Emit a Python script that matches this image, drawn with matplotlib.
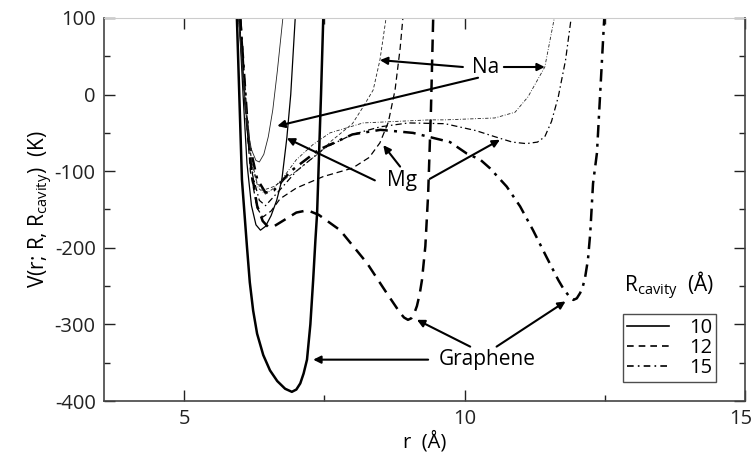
import matplotlib
matplotlib.use("Agg")
import matplotlib.pyplot as plt
from matplotlib.lines import Line2D
import matplotlib.transforms as mtransforms

plt.rcParams['font.family'] = ['Open Sans', 'DejaVu Sans']
plt.rcParams['mathtext.fontset'] = 'custom'
plt.rcParams['mathtext.rm'] = 'Open Sans'
plt.rcParams['mathtext.it'] = 'Open Sans'
plt.rcParams['axes.unicode_minus'] = False

# ---- data ----
gr10_x = [5.94, 6.03, 6.12, 6.17, 6.23, 6.30, 6.41, 6.53, 6.66, 6.80, 6.92, 7.00, 7.07, 7.13, 7.19,
          7.25, 7.30, 7.34, 7.37, 7.39, 7.44, 7.48]
gr10_y = [100, -111, -199, -245, -282, -312, -340, -360, -374, -384, -388, -385, -377, -364, -346,
          -300, -242, -190, -155, -111, 0, 100]

gr12_x = [6.00, 6.10, 6.20, 6.30, 6.40, 6.50, 6.60, 6.80, 7.00, 7.20, 7.40, 7.78, 8.26, 8.61, 8.85,
          8.92, 8.99, 9.05, 9.10, 9.15, 9.20, 9.24, 9.30, 9.35, 9.40, 9.44]
gr12_y = [100, -20, -100, -145, -165, -173, -172, -163, -154, -151, -157, -177, -220, -259, -285,
          -291, -294, -292, -286, -276, -260, -242, -198, -130, -20, 100]

gr15_x = [6.00, 6.15, 6.30, 6.45, 6.60, 6.90, 7.40, 8.00, 8.50, 9.08, 9.74, 10.04, 10.28, 10.45, 10.75,
          10.99, 11.22, 11.46, 11.67, 11.75, 11.82, 11.88, 11.94, 12.00, 12.06, 12.11, 12.15, 12.20,
          12.24, 12.29, 12.36, 12.49]
gr15_y = [100, -60, -110, -128, -125, -100, -72, -52, -46, -50, -62, -77, -85, -96, -120,
          -146, -177, -212, -242, -252, -259, -265, -268, -266, -259, -250, -238, -215,
          -181, -116, -76, 100]

mg10_x = [5.98, 6.05, 6.12, 6.20, 6.28, 6.36, 6.45, 6.55, 6.65, 6.74, 6.83, 6.90, 6.98]
mg10_y = [100, 0, -90, -145, -170, -177, -172, -158, -138, -112, -57, 0, 100]

mg12_x = [5.98, 6.08, 6.18, 6.30, 6.40, 6.55, 6.71, 7.00, 7.48, 8.00, 8.30, 8.49, 8.64, 8.76, 8.85, 8.90]
mg12_y = [100, 0, -100, -148, -160, -152, -136, -122, -107, -96, -82, -63, -36, 6, 60, 100]

mg15_x = [5.98, 6.10, 6.22, 6.34, 6.45, 6.70, 7.00, 7.50, 8.00, 8.50, 9.00, 9.65, 10.20, 10.54,
          10.85, 11.10, 11.30, 11.43, 11.55, 11.67, 11.80, 11.90]
mg15_y = [100, -20, -105, -138, -145, -125, -100, -70, -52, -42, -37, -38, -47, -55,
          -62, -64, -62, -55, -35, -3, 45, 100]

na10_x = [5.97, 6.05, 6.12, 6.20, 6.28, 6.34, 6.42, 6.50, 6.58, 6.66, 6.76]
na10_y = [100, 20, -40, -72, -86, -88, -78, -55, -20, 30, 100]

na12_x = [5.97, 6.08, 6.20, 6.30, 6.40, 6.60, 6.80, 7.00, 7.20, 7.48, 7.60, 8.00, 8.20, 8.37, 8.49, 8.60]
na12_y = [100, 0, -85, -115, -125, -120, -110, -100, -88, -72, -62, -38, -15, 6, 45, 100]

na15_x = [5.97, 6.08, 6.20, 6.32, 6.45, 6.60, 6.80, 7.00, 7.30, 7.60, 8.19, 9.38, 9.65, 10.54,
          10.90, 11.13, 11.43, 11.60]
na15_y = [100, 0, -90, -122, -130, -122, -105, -85, -65, -50, -37, -33, -33, -30.5,
          -23, -3, 36, 100]

legend_labels = ['10', '12', '15']
x_ticks = [5, 10, 15]
y_ticks = [-400, -300, -200, -100, 0, 100]

# ---- styles ----
DASH = (0, (5, 3))
DASHDOT = (0, (5, 2.5, 1.2, 2.5))
fig = plt.figure(figsize=(7.55, 4.54), dpi=100)
ax = fig.add_axes([0.1377, 0.1167, 0.9868 - 0.1377, 0.9604 - 0.1167])

ax.plot(gr10_x, gr10_y, color='k', lw=1.8, ls='-')
ax.plot(gr12_x, gr12_y, color='k', lw=1.8, ls=DASH)
ax.plot(gr15_x, gr15_y, color='k', lw=1.8, ls=DASHDOT)
ax.plot(mg10_x, mg10_y, color='k', lw=0.9, ls='-')
ax.plot(mg12_x, mg12_y, color='k', lw=0.9, ls=(0, (5, 3)))
ax.plot(mg15_x, mg15_y, color='k', lw=0.9, ls=(0, (5, 2.5, 1.2, 2.5)))
ax.plot(na10_x, na10_y, color='#222222', lw=0.6, ls='-')
ax.plot(na12_x, na12_y, color='#222222', lw=0.6, ls=(0, (4, 2.5)))
ax.plot(na15_x, na15_y, color='#222222', lw=0.6, ls=(0, (4, 2, 1, 2)))

ax.set_xlim(3.57, 15)
ax.set_ylim(-400, 100)
ax.set_xticks(x_ticks)
ax.set_xticks([7.5, 12.5], minor=True)
ax.set_yticks(y_ticks)
ax.set_yticks([-350, -250, -150, -50, 50], minor=True)
ax.tick_params(which='both', direction='in', top=True, right=True, labelsize=14.5, colors='#222222')
ax.tick_params(which='major', length=8, width=1.0, pad=6)
ax.tick_params(which='minor', length=4, width=1.0)
for s in ['left', 'bottom', 'right']:
    ax.spines[s].set_color('#444444')
    ax.spines[s].set_linewidth(1.2)
ax.spines['top'].set_color('#cccccc')

# nudge the last x tick label so it stays inside the canvas
fig.canvas.draw()
last = ax.get_xticklabels()[-1]
last.set_transform(last.get_transform() + mtransforms.ScaledTranslation(-4 / 100, 0, fig.dpi_scale_trans))

ax.set_xlabel('r  (Å)', fontsize=14.5, labelpad=1)
ax.set_ylabel(r'V(r; R, R$_{\rm cavity}$)  (K)', fontsize=15, labelpad=0)

# ---- annotations ----
ap = dict(arrowstyle='-|>', lw=1.5, color='k', mutation_scale=11, shrinkA=0, shrinkB=0)
ax.text(10.37, 36, 'Na', fontsize=15, ha='center', va='center')
ax.annotate('', xy=(11.43, 36), xytext=(10.70, 36), arrowprops=ap)
ax.annotate('', xy=(8.49, 45), xytext=(9.97, 36), arrowprops=ap)
ax.annotate('', xy=(6.66, -41), xytext=(10.24, 22), arrowprops=ap)

ax.text(8.89, -111.5, 'Mg', fontsize=15, ha='center', va='center')
ax.annotate('', xy=(6.83, -57), xytext=(8.40, -112), arrowprops=ap)
ax.annotate('', xy=(8.55, -66), xytext=(8.85, -94), arrowprops=ap)
ax.annotate('', xy=(10.63, -59), xytext=(9.38, -110), arrowprops=ap)

ax.text(10.4, -346, 'Graphene', fontsize=15, ha='center', va='center')
ax.annotate('', xy=(7.30, -346), xytext=(9.35, -346), arrowprops=ap)
ax.annotate('', xy=(9.15, -294), xytext=(10.10, -329), arrowprops=ap)
ax.annotate('', xy=(11.80, -270), xytext=(10.57, -329), arrowprops=ap)

# ---- legend ----
handles = [Line2D([], [], color='k', lw=1.2, ls='-'),
           Line2D([], [], color='k', lw=1.2, ls=(0, (4, 3))),
           Line2D([], [], color='k', lw=1.2, ls=(0, (4, 2.5, 1, 2.5)))]
leg = ax.legend(handles, legend_labels, loc='lower right', bbox_to_anchor=(0.955, 0.05),
                fontsize=14.5, frameon=True, fancybox=False, edgecolor='#222222',
                handlelength=2.1, handletextpad=1.0, borderpad=0.2, labelspacing=0.0,
                borderaxespad=0)
leg.get_frame().set_linewidth(1.0)
ax.text(0.882, 0.30, r'R$_{\rm cavity}$  (Å)', transform=ax.transAxes, fontsize=15,
        ha='center', va='center')

fig.savefig('out.png', dpi=100)
